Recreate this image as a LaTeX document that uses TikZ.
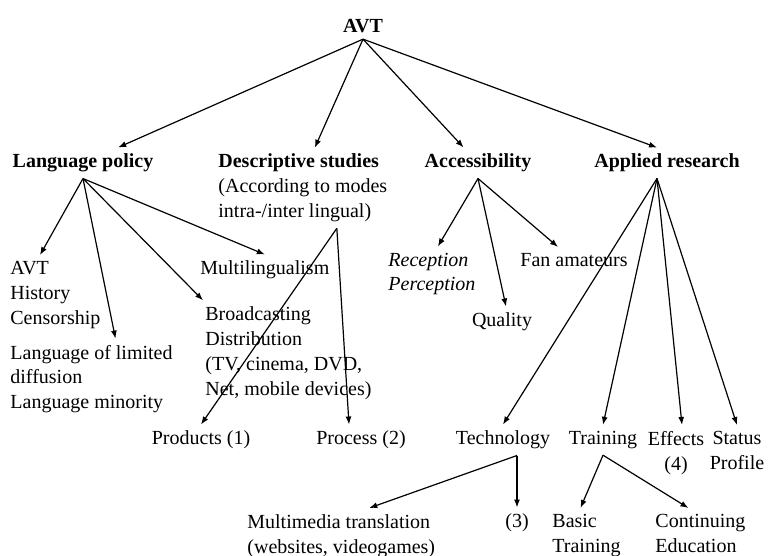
\documentclass[tikz,border=0pt]{standalone}
\usepackage{fontspec}
\setmainfont{Liberation Serif}
\usetikzlibrary{arrows.meta,positioning,calc}

\begin{document}
\begin{tikzpicture}[
  x=0.5pt,y=-0.5pt,
  font=\fontsize{10}{12.4}\selectfont,
  item/.style={inner xsep=1pt,inner ysep=3pt},
  head/.style={item,font=\fontsize{10}{12.4}\selectfont\bfseries},
  block/.style={item,align=left,anchor=west},
  arrow/.style={-{Latex[length=4pt,width=3pt]},line width=0.6pt}
]
\useasboundingbox (0,0) rectangle (770,556);
% top and the four fields
\node[head] (avt) at (363,26) {AVT};
\node[head] (lp) at (83,163) {Language policy};
\node[block] (ds) at (216,188)
  {\textbf{Descriptive studies}\\(According to modes\\intra-/inter lingual)};
\node[head] (acc) at (478,163) {Accessibility};
\node[head] (ar) at (667,163) {Applied research};
\draw[arrow] (avt.south)--(lp);
\draw[arrow] (avt.south)--([xshift=6pt]ds.north);
\draw[arrow] (avt.south)--(acc);
\draw[arrow] (avt.south)--([xshift=-5pt]ar.north);
% language policy
\node[block] (lpavt) at (8,295) {AVT\\History\\Censorship};
\node[block] (lim) at (8,379) {Language of limited\\diffusion\\Language minority};
\node[block] (multi) at (198,270) {Multilingualism};
\node[block] (broad) at (203,353)
  {Broadcasting\\Distribution\\(TV, cinema, DVD,\\Net, mobile devices)};
\draw[arrow] (lp.south)--([xshift=16pt]lpavt.north west);
\draw[arrow] (lp.south)--([xshift=12pt]lim.north);
\draw[arrow] (lp.south)--(broad.north west);
\draw[arrow] (lp.south)--(multi.north);
% descriptive studies
\node[item] (prod) at (201,440) {Products (1)};
\node[item] (proc) at (361,440) {Process (2)};
\draw[arrow] ([xshift=17pt]ds.south)--(prod.north);
\draw[arrow] ([xshift=17pt]ds.south)--([xshift=-6pt]proc.north);
% accessibility
\node[block,font=\fontsize{10}{12.4}\selectfont\itshape] (rec) at (386,274)
  {Reception\\Perception};
\node[item] (qual) at (502,322) {Quality};
\node[block] (fan) at (518,260) {Fan amateurs};
\draw[arrow] (acc.south)--([xshift=3pt]rec.north);
\draw[arrow] (acc.south)--([xshift=2pt]qual.north);
\draw[arrow] (acc.south)--([xshift=-8pt]fan.north);
% applied research
\node[item] (tech) at (503,440) {Technology};
\node[item] (train) at (603,440) {Training};
\node[item,align=center,anchor=north] (eff) at (676,425) {Effects\\(4)};
\node[item,align=center,anchor=north] (stat) at (737,425) {Status\\Profile};
\draw[arrow] ([xshift=-5pt]ar.south)--(tech.north);
\draw[arrow] ([xshift=-5pt]ar.south)--(train.north);
\draw[arrow] ([xshift=-5pt]ar.south)--([xshift=3pt]eff.north);
\draw[arrow] ([xshift=-5pt]ar.south)--(stat.north);
% technology and training
\node[block,anchor=north west] (mm) at (245,508)
  {Multimedia translation\\(websites, videogames)};
\node[item] (three) at (517,523) {(3)};
\node[block,anchor=north west] (basic) at (550,508) {Basic\\Training};
\node[block,anchor=north west] (cont) at (653,508) {Continuing\\Education};
\draw[arrow] ([xshift=7pt]tech.south)--([xshift=14pt]mm.north);
\draw[arrow] ([xshift=7pt]tech.south)--(three.north);
\draw[arrow] (train.south)--([xshift=-3pt]basic.north);
\draw[arrow] (train.south)--([xshift=-6pt]cont.north);
\end{tikzpicture}
\end{document}
